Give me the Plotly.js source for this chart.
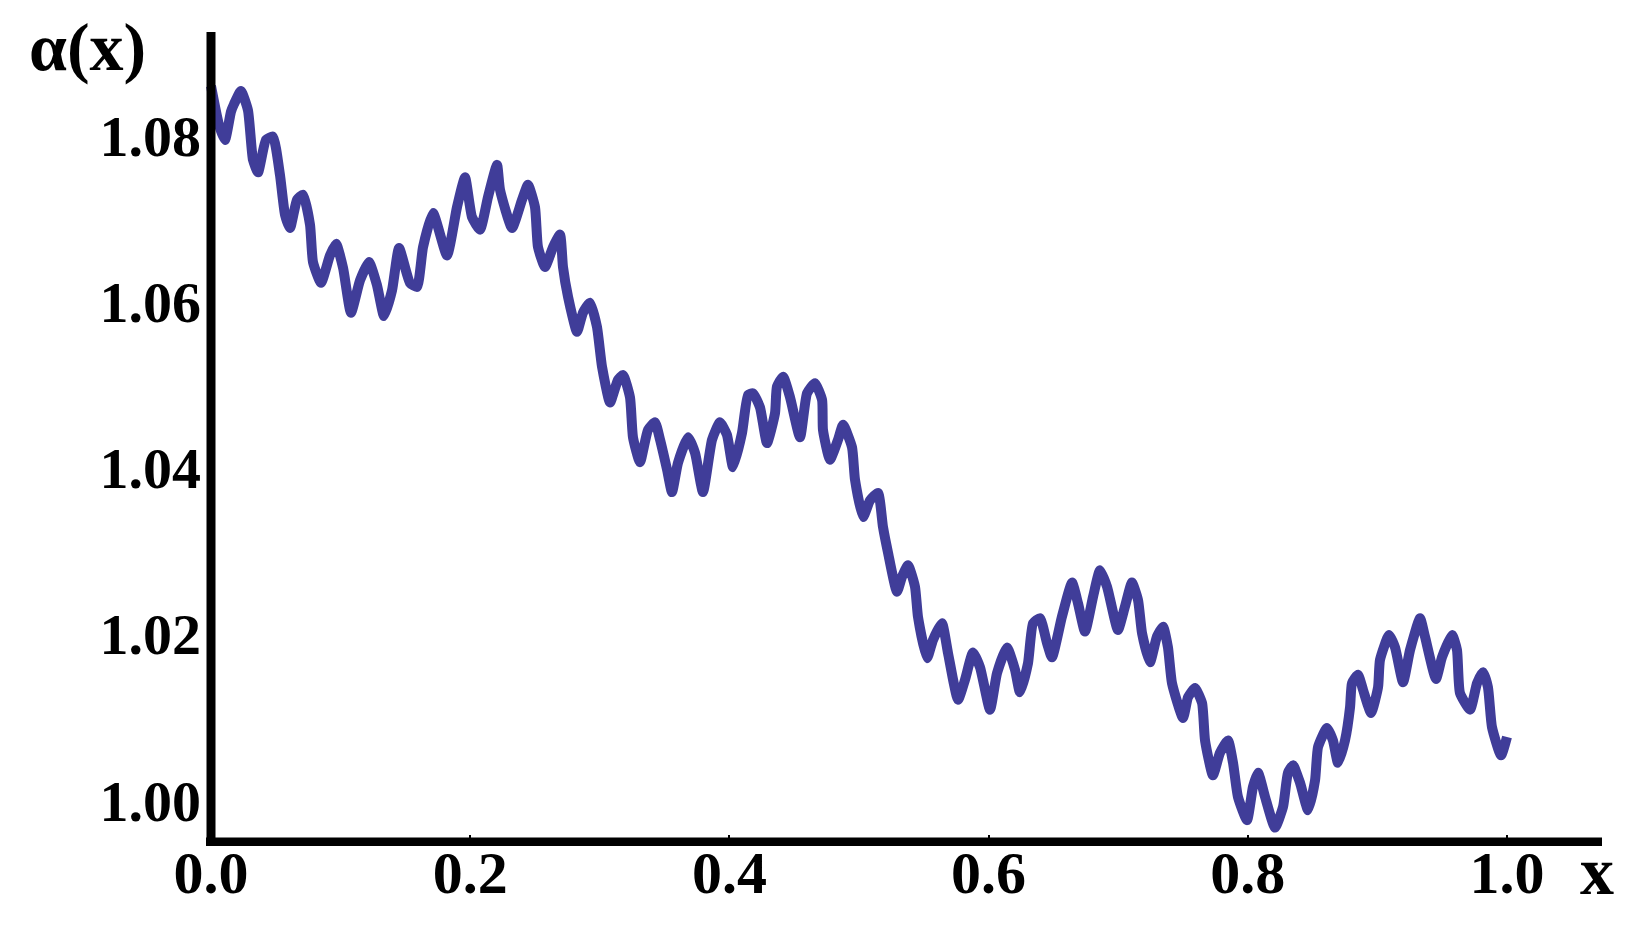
<!DOCTYPE html>
<html>
<head>
<meta charset="utf-8">
<script src="https://cdn.plot.ly/plotly-3.0.1.min.js"></script>
<style>
  html, body { margin: 0; padding: 0; background: #ffffff; }
  #chart { width: 1647px; height: 943px; }
</style>
</head>
<body>
<div id="chart"></div>
<script>
// Curve alpha(x)
const xValues = [
  0.0000, 0.0062, 0.0108, 0.0154, 0.0177, 0.0231, 0.0285, 0.0324, 0.0363, 0.0424,
  0.0478, 0.0532, 0.0571, 0.0610, 0.0664, 0.0710, 0.0764, 0.0787, 0.0849, 0.0918,
  0.0965, 0.1019, 0.1080, 0.1150, 0.1219, 0.1281, 0.1335, 0.1397, 0.1451, 0.1535,
  0.1590, 0.1636, 0.1713, 0.1821, 0.1898, 0.1960, 0.2014, 0.2076, 0.2137, 0.2207,
  0.2230, 0.2323, 0.2400, 0.2446, 0.2500, 0.2523, 0.2577, 0.2639, 0.2693, 0.2716,
  0.2755, 0.2824, 0.2870, 0.2924, 0.2978, 0.3017, 0.3079, 0.3140, 0.3179, 0.3233,
  0.3256, 0.3310, 0.3372, 0.3426, 0.3465, 0.3519, 0.3557, 0.3603, 0.3681, 0.3735,
  0.3796, 0.3866, 0.3927, 0.3981, 0.4028, 0.4097, 0.4144, 0.4182, 0.4236, 0.4290,
  0.4352, 0.4367, 0.4414, 0.4468, 0.4545, 0.4599, 0.4660, 0.4715, 0.4722, 0.4776,
  0.4838, 0.4877, 0.4946, 0.4969, 0.5031, 0.5085, 0.5147, 0.5185, 0.5224, 0.5293,
  0.5332, 0.5378, 0.5432, 0.5455, 0.5525, 0.5571, 0.5640, 0.5687, 0.5764, 0.5818,
  0.5880, 0.5934, 0.6011, 0.6065, 0.6142, 0.6204, 0.6242, 0.6304, 0.6343, 0.6397,
  0.6451, 0.6489, 0.6566, 0.6644, 0.6690, 0.6744, 0.6806, 0.6860, 0.6914, 0.6998,
  0.7052, 0.7106, 0.7153, 0.7184, 0.7245, 0.7299, 0.7346, 0.7384, 0.7415, 0.7500,
  0.7539, 0.7593, 0.7647, 0.7670, 0.7731, 0.7785, 0.7847, 0.7886, 0.7924, 0.7994,
  0.8040, 0.8079, 0.8133, 0.8210, 0.8272, 0.8310, 0.8349, 0.8403, 0.8465, 0.8519,
  0.8542, 0.8611, 0.8657, 0.8696, 0.8750, 0.8789, 0.8804, 0.8850, 0.8889, 0.8951,
  0.9005, 0.9020, 0.9090, 0.9136, 0.9198, 0.9252, 0.9329, 0.9367, 0.9452, 0.9498,
  0.9576, 0.9614, 0.9637, 0.9715, 0.9769, 0.9815, 0.9853, 0.9884, 0.9954, 1.0000
];
const alphaValues = [
  1.0860, 1.0813, 1.0795, 1.0829, 1.0838, 1.0854, 1.0831, 1.0771, 1.0756, 1.0795,
  1.0799, 1.0753, 1.0705, 1.0689, 1.0723, 1.0729, 1.0693, 1.0648, 1.0623, 1.0656,
  1.0670, 1.0641, 1.0587, 1.0626, 1.0648, 1.0620, 1.0583, 1.0614, 1.0665, 1.0623,
  1.0618, 1.0666, 1.0707, 1.0656, 1.0714, 1.0750, 1.0702, 1.0687, 1.0726, 1.0765,
  1.0735, 1.0689, 1.0723, 1.0741, 1.0714, 1.0666, 1.0642, 1.0666, 1.0681, 1.0642,
  1.0606, 1.0564, 1.0587, 1.0599, 1.0570, 1.0522, 1.0479, 1.0506, 1.0512, 1.0485,
  1.0437, 1.0407, 1.0446, 1.0455, 1.0434, 1.0398, 1.0371, 1.0406, 1.0437, 1.0418,
  1.0371, 1.0434, 1.0455, 1.0440, 1.0401, 1.0442, 1.0488, 1.0490, 1.0473, 1.0430,
  1.0466, 1.0498, 1.0510, 1.0485, 1.0437, 1.0490, 1.0502, 1.0482, 1.0446, 1.0410,
  1.0434, 1.0452, 1.0425, 1.0386, 1.0341, 1.0361, 1.0370, 1.0329, 1.0298, 1.0251,
  1.0269, 1.0283, 1.0257, 1.0221, 1.0171, 1.0193, 1.0213, 1.0177, 1.0121, 1.0145,
  1.0178, 1.0160, 1.0109, 1.0153, 1.0184, 1.0157, 1.0130, 1.0165, 1.0213, 1.0219,
  1.0189, 1.0172, 1.0221, 1.0262, 1.0237, 1.0203, 1.0245, 1.0277, 1.0257, 1.0205,
  1.0233, 1.0262, 1.0241, 1.0201, 1.0166, 1.0197, 1.0209, 1.0184, 1.0141, 1.0099,
  1.0124, 1.0135, 1.0117, 1.0072, 1.0030, 1.0057, 1.0072, 1.0045, 1.0004, 0.9976,
  1.0016, 1.0033, 1.0004, 0.9967, 0.9992, 1.0033, 1.0042, 1.0021, 0.9988, 1.0024,
  1.0064, 1.0087, 1.0072, 1.0045, 1.0072, 1.0112, 1.0141, 1.0151, 1.0133, 1.0105,
  1.0136, 1.0169, 1.0199, 1.0184, 1.0142, 1.0181, 1.0219, 1.0197, 1.0146, 1.0172,
  1.0199, 1.0181, 1.0129, 1.0109, 1.0141, 1.0154, 1.0136, 1.0088, 1.0054, 1.0076
];

const xTickVals = [0.0, 0.2, 0.4, 0.6, 0.8, 1.0];
const xTickText = ['0.0', '0.2', '0.4', '0.6', '0.8', '1.0'];
const yTickVals = [1.00, 1.02, 1.04, 1.06, 1.08];
const yTickText = ['1.00', '1.02', '1.04', '1.06', '1.08'];

const yLabel = 'α(x)';
const xLabel = 'x';

const serif = 'Liberation Serif, Times New Roman, serif';

const xRange = [-0.003858, 1.073302];
const yRange = [0.994485, 1.092498];
const xAxisLineLevel = 0.99497;

const trace = {
  type: 'scatter',
  mode: 'lines',
  x: xValues,
  y: alphaValues,
  line: { color: '#403d99', width: 10, shape: 'spline', smoothing: 0.5 },
  hoverinfo: 'skip',
  showlegend: false
};

const layout = {
  width: 1647,
  height: 943,
  autosize: false,
  margin: { l: 206, r: 45, t: 32, b: 97, pad: 0 },
  paper_bgcolor: '#ffffff',
  plot_bgcolor: '#ffffff',
  showlegend: false,
  xaxis: {
    range: xRange,
    showgrid: false,
    zeroline: false,
    showline: false,
    tickmode: 'array',
    tickvals: xTickVals,
    ticktext: xTickText,
    ticks: 'inside',
    ticklen: 11,
    tickwidth: 2,
    tickcolor: '#000000',
    tickfont: { family: serif, size: 60, color: '#000000', weight: 'bold' },
    ticklabelstandoff: -14,
    fixedrange: true
  },
  yaxis: {
    range: yRange,
    showgrid: false,
    zeroline: false,
    showline: false,
    tickmode: 'array',
    tickvals: yTickVals,
    ticktext: yTickText,
    ticks: '',
    tickfont: { family: serif, size: 58, color: '#000000', weight: 'bold' },
    ticklabelstandoff: 4,
    fixedrange: true
  },
  shapes: [
    { type: 'line', xref: 'x', yref: 'paper', x0: 0, x1: 0, y0: 0, y1: 1,
      line: { color: '#000000', width: 9 }, layer: 'above' },
    { type: 'line', xref: 'paper', yref: 'y', x0: 0, x1: 1, y0: xAxisLineLevel, y1: xAxisLineLevel,
      line: { color: '#000000', width: 9 }, layer: 'above' }
  ],
  annotations: [
    { text: yLabel, xref: 'paper', yref: 'paper', x: -0.0852, y: 0.9816,
      xanchor: 'center', yanchor: 'middle', showarrow: false,
      font: { family: serif, size: 68, color: '#000000', weight: 'bold' } },
    { text: xLabel, xref: 'paper', yref: 'paper', x: 0.9964, y: -0.0307,
      xanchor: 'center', yanchor: 'middle', showarrow: false,
      font: { family: serif, size: 68, color: '#000000', weight: 'bold' } }
  ]
};

Plotly.newPlot('chart', [trace], layout, { staticPlot: true, displayModeBar: false });
</script>
</body>
</html>
